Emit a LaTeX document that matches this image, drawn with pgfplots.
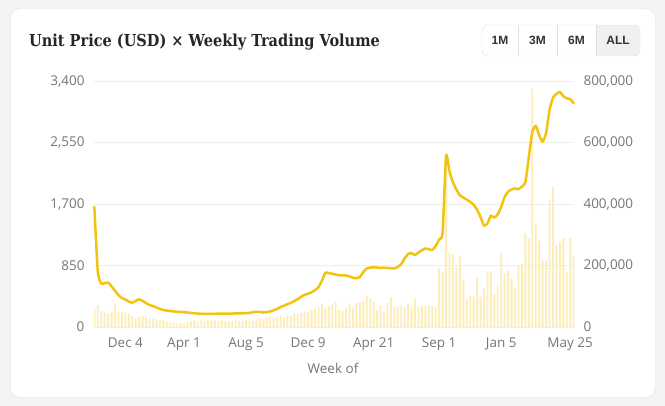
\documentclass[border=0pt]{standalone}
\usepackage{pgfplots}
\pgfplotsset{compat=1.18}
\usepackage{pgfplotstable}
\usepackage{fontspec}
\setmainfont{Open Sans}
\newfontfamily\titlefont[FakeStretch=0.88]{DejaVu Serif}
\newfontfamily\btnfont{Liberation Sans}
\definecolor{linecol}{RGB}{242,196,16}
\definecolor{barcol}{RGB}{252,237,185}
\definecolor{gridcol}{RGB}{238,238,238}
\definecolor{tickcol}{RGB}{118,118,118}
\definecolor{titlecol}{RGB}{38,38,38}
\definecolor{bgcol}{RGB}{244,244,244}
\definecolor{cardborder}{RGB}{224,224,224}
\definecolor{btnfill}{RGB}{240,240,240}
\definecolor{btntext}{RGB}{50,50,50}

\pgfplotstableread{
w price
0 1660
1 760
2 600
3 605
4 615
5 560
6 500
7 440
8 400
9 380
10 350
11 336
12 360
13 383
14 360
15 330
16 305
17 290
18 270
19 250
20 235
21 228
22 222
23 215
24 211
25 208
26 205
27 200
28 195
29 190
30 186
31 183
32 181
33 180
34 181
35 183
36 184
37 185
38 186
39 185
40 186
41 188
42 189
43 190
44 192
45 195
46 205
47 210
48 208
49 200
50 205
51 215
52 230
53 250
54 275
55 295
56 315
57 335
58 360
59 385
60 420
61 445
62 460
63 480
64 510
65 550
66 640
67 750
68 745
69 735
70 725
71 715
72 715
73 712
74 700
75 680
76 675
77 690
78 760
79 810
80 820
81 825
82 822
83 818
84 820
85 815
86 812
87 810
88 830
89 870
90 950
91 1010
92 1020
93 995
94 1030
95 1060
96 1085
97 1075
98 1065
99 1120
100 1210
101 1300
102 2370
103 2150
104 2000
105 1900
106 1820
107 1790
108 1760
109 1730
110 1690
111 1620
112 1520
113 1400
114 1430
115 1540
116 1510
117 1560
118 1660
119 1800
120 1870
121 1900
122 1915
123 1905
124 1940
125 2000
126 2350
127 2700
128 2780
129 2650
130 2560
131 2680
132 3000
133 3170
134 3220
135 3250
136 3190
137 3160
138 3150
139 3090
}\pricedata

\pgfplotstableread{
w vol
0 60000
1 72000
2 51000
3 46000
4 43000
5 51000
6 75000
7 51000
8 48000
9 46000
10 43000
11 35000
12 29000
13 33000
14 35000
15 33000
16 29000
17 26000
18 24000
19 22000
20 22000
21 18000
22 15000
23 13000
24 11000
25 13000
26 11000
27 15000
28 18000
29 22000
30 18000
31 22000
32 20000
33 22000
34 23000
35 21000
36 19000
37 22000
38 20000
39 18000
40 21000
41 23000
42 20000
43 19000
44 22000
45 24000
46 21000
47 25000
48 28000
49 24000
50 30000
51 32000
52 28000
53 33000
54 35000
55 31000
56 38000
57 36000
58 44000
59 42000
60 47000
61 51000
62 48000
63 56000
64 60000
65 64000
66 73000
67 62000
68 67000
69 73000
70 81000
71 56000
72 53000
73 62000
74 75000
75 64000
76 78000
77 81000
78 83000
79 102000
80 92000
81 81000
82 56000
83 70000
84 51000
85 78000
86 96000
87 64000
88 67000
89 70000
90 64000
91 75000
92 62000
93 92000
94 64000
95 70000
96 67000
97 70000
98 67000
99 64000
100 190000
101 179000
102 553000
103 244000
104 238000
105 195000
106 233000
107 152000
108 92000
109 103000
110 98000
111 159000
112 98000
113 125000
114 181000
115 181000
116 108000
117 136000
118 242000
119 173000
120 184000
121 157000
122 125000
123 198000
124 206000
125 304000
126 287000
127 774000
128 336000
129 279000
130 217000
131 217000
132 412000
133 455000
134 266000
135 276000
136 290000
137 179000
138 290000
139 233000
}\voldata

\begin{document}
\begin{tikzpicture}[x=1pt,y=1pt]
\fill[bgcol] (0,0) rectangle (665,406);
\draw[cardborder, fill=white, rounded corners=10pt] (10.5,8.5) rectangle (655.5,397.5);
\node[anchor=base west, inner sep=0, text=titlecol, font=\titlefont\bfseries\fontsize{16.5}{19}\selectfont] at (29,359.5) {Unit Price (USD) × Weekly Trading Volume};
% range buttons
\begin{scope}
\clip[rounded corners=6pt] (482,350) rectangle (640,381);
\fill[btnfill] (596,350) rectangle (640,381);
\end{scope}
\draw[cardborder, rounded corners=6pt] (482,350) rectangle (640,381);
\draw[cardborder] (518,350)--(518,381) (557,350)--(557,381) (596,350)--(596,381);
\foreach \xx/\tt in {500/1M, 537.5/3M, 576.5/6M, 618/ALL}
  \node[text=btntext, font=\btnfont\bfseries\fontsize{12}{14}\selectfont] at (\xx,365.5) {\tt};

\begin{axis}[at={(94pt,79pt)}, anchor=south west, scale only axis,
  width=480pt, height=246pt,
  xmin=-0.1, xmax=139.1, ymin=0, ymax=800000,
  axis line style={draw=none}, major tick length=0, tick style={draw=none},
  ymajorgrids, grid style={gridcol, line width=0.8pt},
  xtick={9,26,44,62,81,100,118,138},
  xticklabels={Dec 4,Apr 1,Aug 5,Dec 9,Apr 21,Sep 1,Jan 5,May 25},
  xticklabel style={text=tickcol, font=\fontsize{13.5}{15}\selectfont, yshift=-7pt},
  ytick={0,200000,400000,600000,800000},
  yticklabels={0,{200,000},{400,000},{600,000},{800,000}},
  yticklabel pos=right, scaled y ticks=false,
  yticklabel style={text=tickcol, font=\fontsize{13.5}{15}\selectfont, xshift=6pt},
  ]
\addplot[ybar, bar width=1.9pt, fill=barcol, draw=none, bar shift=0pt] table[x=w, y=vol] {\voldata};
\end{axis}

\begin{axis}[at={(94pt,79pt)}, anchor=south west, scale only axis,
  width=480pt, height=246pt,
  xmin=-0.1, xmax=139.1, ymin=0, ymax=3400,
  axis line style={draw=none}, major tick length=0, tick style={draw=none},
  xtick=\empty,
  ytick={0,850,1700,2550,3400},
  yticklabels={0,850,{1,700},{2,550},{3,400}},
  scaled y ticks=false,
  yticklabel style={text=tickcol, font=\fontsize{13.5}{15}\selectfont, xshift=-6pt},
  clip=false,
  ]
\addplot[linecol, line width=2.5pt, smooth, tension=0.3, line join=round, line cap=round] table[x=w, y=price] {\pricedata};
\end{axis}
\node[text=tickcol, font=\fontsize{13.5}{15}\selectfont] at (333,38) {Week of};
\end{tikzpicture}
\end{document}
